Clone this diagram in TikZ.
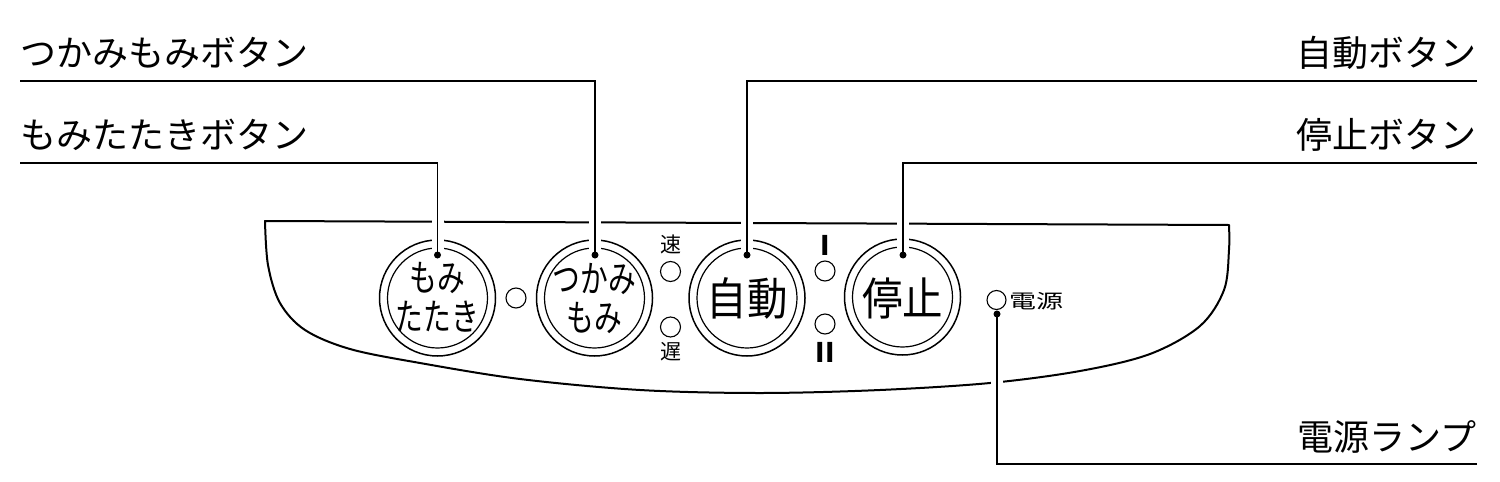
\documentclass[tikz,border=0pt]{standalone}
\usepackage{fontspec}
\setmainfont{Noto Sans CJK JP}
\begin{document}
\begin{tikzpicture}[x=1pt,y=-1pt,
  outline/.style={line width=2pt, line join=round},
  leader/.style={line width=1.3pt, preaction={draw=white, line width=12pt}},
  ring/.style={circle, draw, line width=1.5pt, minimum size=116pt, inner sep=0pt},
  innerring/.style={circle, draw, line width=1.2pt, minimum size=100pt, inner sep=0pt},
  lamp/.style={circle, draw, line width=1.1pt, minimum size=20pt, inner sep=0pt},
  dotn/.style={circle, fill, minimum size=7pt, inner sep=0pt},
  lbl/.style={inner sep=0pt, font=\fontsize{36}{40}\selectfont},
  btxt/.style={inner sep=0pt, align=center, font=\fontsize{37}{39}\selectfont},
  bigtxt/.style={inner sep=0pt, font=\fontsize{45}{48}\selectfont},
  smalltxt/.style={inner sep=0pt, font=\fontsize{21}{22}\selectfont},
  numtxt/.style={inner sep=0pt, font=\fontsize{27}{27}\selectfont\bfseries},
]
\useasboundingbox (0,0) rectangle (1500,482);

% panel outline
\draw[outline] plot[smooth, tension=0.55] coordinates {(265,221) (268,265) (280,303) (305,330) (350,349) (420,363) (520,379) (640,390) (760,393) (880,390) (990,383) (1080,371) (1150,354) (1200,326) (1224,290) (1229,250) (1229,225)} -- cycle;

% buttons
\node[ring] (b1) at (437.5,298) {};
\node[innerring] (b1i) at (437.5,298) {};
\node[btxt] (t1) at (437.5,297) {\scalebox{0.75}[1]{もみ}\\\scalebox{0.75}[1]{たたき}};

\node[ring] (b2) at (594.5,298) {};
\node[innerring] (b2i) at (594.5,298) {};
\node[btxt] (t2) at (594.5,298) {\scalebox{0.75}[1]{つかみ}\\\scalebox{0.75}[1]{もみ}};

\node[ring] (b3) at (747,298) {};
\node[innerring] (b3i) at (747,298) {};
\node[bigtxt] (t3) at (747,298) {\scalebox{0.9}[1]{自動}};

\node[ring] (b4) at (902.5,297) {};
\node[innerring] (b4i) at (902.5,297) {};
\node[bigtxt] (t4) at (902.5,298) {\scalebox{0.9}[1]{停止}};

% lamps
\node[lamp] (l1) at (516,298) {};
\node[lamp] (lfast) at (670.5,271.5) {};
\node[lamp] (lslow) at (670.5,327) {};
\node[smalltxt] (tfast) at (670.5,244) {速};
\node[smalltxt] (tslow) at (671,352) {遅};
\node[lamp] (lI) at (825,271) {};
\node[lamp] (lII) at (825,324) {};
\node[numtxt] (tI) at (825,245) {I};
\node[numtxt] (tII) at (825,352) {II};
\node[lamp, minimum size=19pt] (lpow) at (996.5,300) {};
\node[inner sep=0pt, font=\fontsize{27}{28}\selectfont] (tpow) at (1036,301) {\scalebox{1}[0.72]{電源}};

% labels
\node[lbl, anchor=base west] (lab1) at (20,66) {つかみもみボタン};
\node[lbl, anchor=base west] (lab2) at (20,148) {もみたたきボタン};
\node[lbl, anchor=base east] (lab3) at (1477,66) {自動ボタン};
\node[lbl, anchor=base east] (lab4) at (1477,148) {停止ボタン};
\node[lbl, anchor=base east] (lab5) at (1477,450) {電源ランプ};

% leader end points
\coordinate (c1) at (595,255);
\coordinate (c2) at (437.5,255);
\coordinate (c3) at (747,255);
\coordinate (c4) at (903,255);
\coordinate (c5) at (997,314);

% leaders
\draw[leader] ([yshift=-15pt]lab1.base west) -| (c1);
\draw[leader] ([yshift=-15pt]lab2.base west) -| (c2);
\draw[leader] ([yshift=-15pt]lab3.base east) -| (c3);
\draw[leader] ([yshift=-15pt]lab4.base east) -| (c4);
\draw[leader] ([yshift=-14pt]lab5.base east) -| (c5);

\node[dotn] (d1) at (c1) {};
\node[dotn] (d2) at (c2) {};
\node[dotn] (d3) at (c3) {};
\node[dotn] (d4) at (c4) {};
\node[dotn] (d5) at (c5) {};
\end{tikzpicture}
\end{document}
